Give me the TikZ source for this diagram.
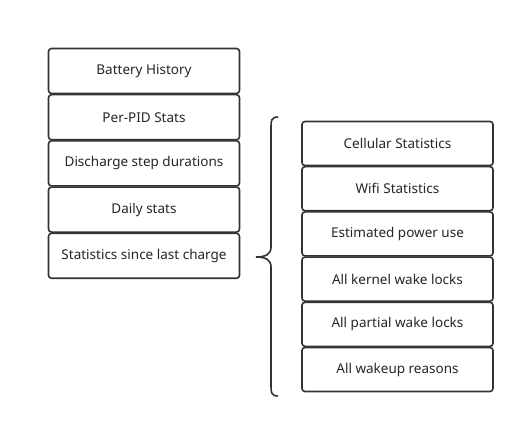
\documentclass[tikz,border=0pt]{standalone}
\usepackage{fontspec}
\setmainfont{Noto Sans}
\usetikzlibrary{positioning}

\definecolor{edge}{HTML}{333333}

\begin{document}
\begin{tikzpicture}[x=1pt, y=-1pt,
  statbox/.style={draw=edge, line width=1.6pt, fill=white, rounded corners=3pt,
    minimum width=191pt, minimum height=45pt, inner sep=0pt, outer sep=0pt,
    font=\fontsize{13.5}{15}\selectfont, text=black!85},
  sub/.style={statbox, minimum height=44pt},
  bracket/.style={draw=edge, line width=1.6pt}]
\useasboundingbox (0,0) rectangle (524,427);

% left column
\node[statbox] (hist) at (144,71) {Battery History};
\node[statbox, below=1.2pt of hist] (pid) {Per-PID Stats};
\node[statbox, below=1.2pt of pid] (disch) {Discharge step durations};
\node[statbox, below=1.2pt of disch] (daily) {Daily stats};
\node[statbox, below=1.2pt of daily] (since) {Statistics since last charge};

% right column
\node[sub] (cell) at (397.5,143.5) {Cellular Statistics};
\node[sub, below=1.2pt of cell] (wifi) {Wifi Statistics};
\node[sub, below=1.2pt of wifi] (power) {Estimated power use};
\node[sub, below=1.2pt of power] (kernel) {All kernel wake locks};
\node[sub, below=1.2pt of kernel] (partial) {All partial wake locks};
\node[sub, below=1.2pt of partial] (wakeup) {All wakeup reasons};

% brace
\coordinate (btop) at (278,117);
\coordinate (bbot) at (278,396);
\coordinate (tip) at (256,257);
\draw[bracket] (btop) .. controls (271,117) and (271,121) .. (271,127)
  -- (271,247) .. controls (271,254) and (266,257) .. (tip)
  .. controls (266,257) and (271,260) .. (271,267)
  -- (271,386) .. controls (271,392) and (271,396) .. (bbot);
\end{tikzpicture}
\end{document}
